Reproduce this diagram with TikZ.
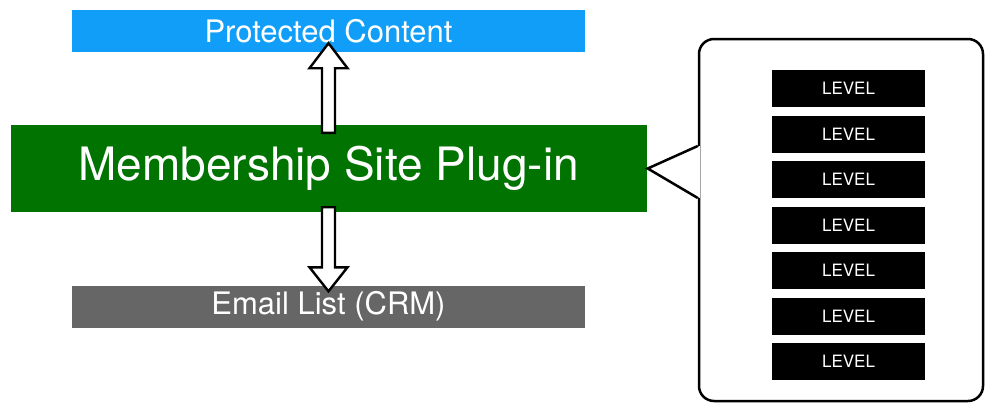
\documentclass[tikz,border=0pt]{standalone}
\usepackage{fontspec}
\setmainfont{TeX Gyre Heros}
\usetikzlibrary{calc,positioning}
\definecolor{contentblue}{RGB}{16,158,248}
\definecolor{pluginGreen}{RGB}{0,115,0}
\definecolor{crmgray}{RGB}{102,102,102}
\tikzset{
  stage box/.style={rectangle,minimum width=513,minimum height=42,inner sep=0pt,text=white,font=\fontsize{31}{34}\selectfont},
  plugin box/.style={rectangle,fill=pluginGreen,minimum width=636,minimum height=87,inner sep=0pt,text=white,font=\fontsize{46}{50}\selectfont},
  level box/.style={rectangle,fill=black,minimum width=153,minimum height=37,inner sep=0pt,text=white,font=\fontsize{17}{19}\selectfont},
  callout box/.style={rectangle,draw,line width=2.5pt,rounded corners=15,minimum width=284,minimum height=362,inner sep=0pt},
  hollow arrow/.style={draw=black,fill=white,line width=2.4pt,line join=miter},
}

\begin{document}
\begin{tikzpicture}[x=1pt,y=-1pt]
  \useasboundingbox (0,0) rectangle (1000,415);
  \node[stage box,fill=contentblue] (content) at (328.5,31) {Protected Content};
  \node[plugin box] (plugin) at (328.5,168.5) {Membership Site Plug-in};
  \node[stage box,fill=crmgray] (crm) at (328.5,306.5) {Email List (CRM)};
  \draw[hollow arrow] ([shift={(-6.5,8)}]plugin.north) -- ([shift={(-6.5,16)}]content.south)
    -- ([shift={(-19,16)}]content.south) -- ([shift={(0,-9)}]content.south)
    -- ([shift={(19,16)}]content.south) -- ([shift={(6.5,16)}]content.south)
    -- ([shift={(6.5,8)}]plugin.north) -- cycle;
  \draw[hollow arrow] ([shift={(-6.5,-5)}]plugin.south) -- ([shift={(-6.5,-18)}]crm.north)
    -- ([shift={(-19,-18)}]crm.north) -- ([shift={(0,6)}]crm.north)
    -- ([shift={(19,-18)}]crm.north) -- ([shift={(6.5,-18)}]crm.north)
    -- ([shift={(6.5,-5)}]plugin.south) -- cycle;
  \node[callout box] (levels) at (841,220) {};
  \coordinate (tip) at ([xshift=1]plugin.east);
  \fill[white] ([shift={(2,-74)}]levels.west) -- (tip) -- ([shift={(2,-22)}]levels.west) -- cycle;
  \draw[line width=2.5pt,line join=miter] ([shift={(0,-74)}]levels.west) -- (tip) -- ([shift={(0,-22)}]levels.west);
  \foreach \i in {1,...,7}
    \node[level box] (level\i) at (848.5,43+45.5*\i) {LEVEL};
\end{tikzpicture}
\end{document}
